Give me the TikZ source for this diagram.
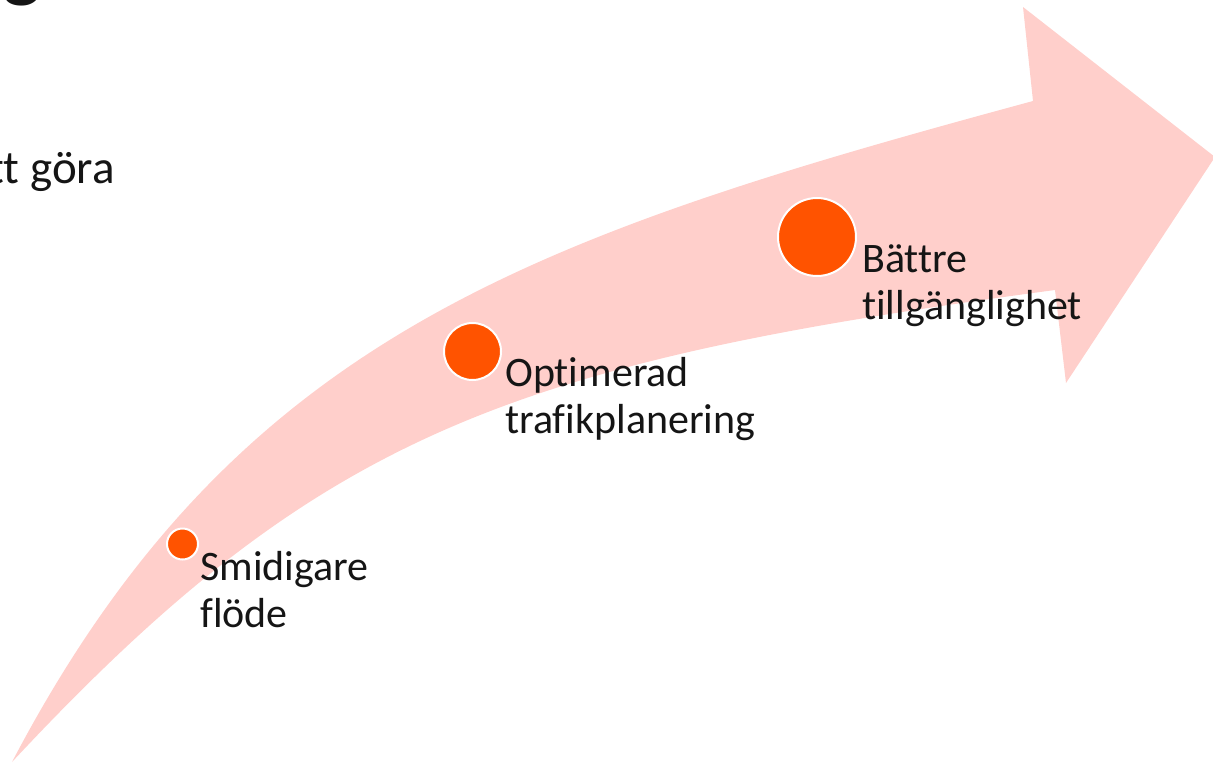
\documentclass[tikz,border=0pt]{standalone}
\usepackage{fontspec}
\setmainfont{Carlito}[Ligatures=NoCommon]
\definecolor{band}{HTML}{FFCFCB}
\definecolor{dot}{HTML}{FF5300}
\definecolor{ink}{HTML}{151515}

\begin{document}
\begin{tikzpicture}[x=1pt,y=-1pt,
  milestone/.style={circle, fill=dot, draw=white, line width=2pt, inner sep=0pt},
  lbl/.style={anchor=base west, inner sep=0pt, align=left, text=ink,
              font=\fontsize{42}{47}\selectfont}]
\useasboundingbox (0,0) rectangle (1213,763);
\clip (0,0) rectangle (1213,763);

% curved arrow band with its head
\fill[band] (12,762) .. controls (235,337) and (531,237) .. (1033,101)
  -- (1023,7) -- (1215,157) -- (1066,383) -- (1055,290)
  .. controls (510,363) and (319,433) .. (12,762) -- cycle;

% partly visible heading and body text
\node[anchor=base west, inner sep=0pt, text=ink,
      font=\fontsize{80}{90}\selectfont\bfseries] (title) at (3,-8) {g};
\node[anchor=base east, inner sep=0pt, text=ink,
      font=\fontsize{47}{56}\selectfont] (body) at (115,183) {att göra};

% milestones along the arrow
\node[milestone, minimum size=31pt] (m1) at (182.5,544) {};
\node[milestone, minimum size=57pt] (m2) at (472.5,351.5) {};
\node[milestone, minimum size=78pt] (m3) at (817,237) {};

% labels (anchored at the baseline of their second line)
\node[lbl] (t1) at (200,627) {Smidigare\\flöde};
\node[lbl] (t2) at (505,433) {Optimerad\\trafikplanering};
\node[lbl] (t3) at (862,319) {Bättre\\tillgänglighet};
\end{tikzpicture}
\end{document}
